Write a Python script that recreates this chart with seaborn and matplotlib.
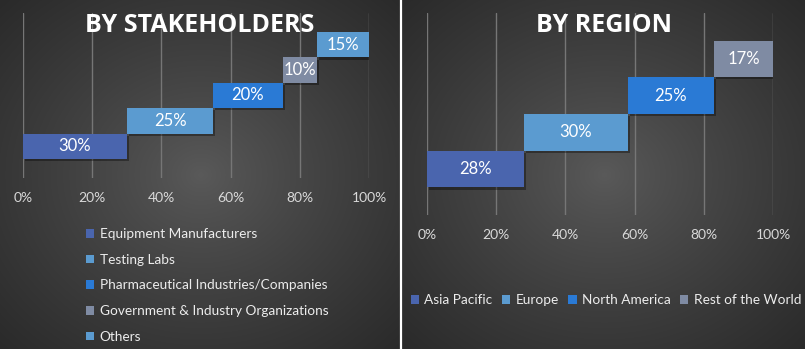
import numpy as np
import pandas as pd
import matplotlib
matplotlib.use("Agg")
import matplotlib.pyplot as plt
import matplotlib.patheffects as pe
from matplotlib.patches import Patch
import seaborn as sns

# ---- data ----
stake_labels = ["Equipment Manufacturers", "Testing Labs",
                "Pharmaceutical Industries/Companies",
                "Government & Industry Organizations", "Others"]
stake_values = [30, 25, 20, 10, 15]
stake_colors = ["#4A65AE", "#5B9BD0", "#2A7AD5", "#7F8BA3", "#5B9BD0"]

region_labels = ["Asia Pacific", "Europe", "North America", "Rest of the World"]
region_values = [28, 30, 25, 17]
region_colors = ["#4A65AE", "#5B9BD0", "#2A7AD5", "#7F8BA3"]

tick_values = [0, 20, 40, 60, 80, 100]
tick_labels = ["0%", "20%", "40%", "60%", "80%", "100%"]

W, H = 805, 349
sns.set_theme(style="dark")
plt.rcParams["font.family"] = ["Lato", "DejaVu Sans"]

fig = plt.figure(figsize=(W / 100, H / 100), dpi=100)
fig.patch.set_facecolor("#2b2b2b")


def px_axes(x0, y0, x1, y1):
    """Axes from pixel box (top-left origin)."""
    return fig.add_axes([x0 / W, (H - y1) / H, (x1 - x0) / W, (y1 - y0) / H])


def gradient_panel(x0, x1):
    ax = px_axes(x0, 0, x1, H)
    w, h = x1 - x0, H
    yy, xx = np.mgrid[0:h, 0:w]
    cx, cy = w / 2, h * 0.5
    r = np.sqrt(((xx - cx) / (w / 2)) ** 2 + ((yy - cy) / (h / 2)) ** 2) / np.sqrt(2)
    r = np.clip(r, 0, 1)
    val = (0x5a + (0x2a - 0x5a) * r ** 0.85) / 255.0
    img = np.dstack([val, val, val])
    ax.imshow(img, aspect="auto", extent=(0, 1, 0, 1), interpolation="bilinear")
    ax.set_axis_off()
    return ax


gradient_panel(0, 400)
gradient_panel(402, W)
# white divider between the two panels
fig.add_artist(plt.Line2D([401 / W, 401 / W], [0, 1], color="white", lw=1.6,
                          transform=fig.transFigure))


def waterfall(ax, labels, values, colors):
    starts = np.concatenate([[0], np.cumsum(values)[:-1]])
    df = pd.DataFrame({"segment": labels, "share": values, "start": starts})
    sns.barplot(data=df, x="share", y="segment", orient="h", width=1.0,
                left=df["start"], ax=ax, linewidth=0, color=colors[0],
                saturation=1, errorbar=None)
    shadow = [pe.SimplePatchShadow(offset=(1.5, -1.5), shadow_rgbFace="black", alpha=0.35),
              pe.Normal()]
    for patch, c in zip(ax.patches, colors):
        patch.set_facecolor(c)
        patch.set_edgecolor("none")
        patch.set_path_effects(shadow)
    for i, (s, v) in enumerate(zip(starts, values)):
        ax.text(s + v / 2, i, f"{v}%", ha="center", va="center",
                color="white", fontsize=12)
    n = len(values)
    ax.set_ylim(-1.25, n + 0.25)
    ax.set_xlim(0, 100)
    ax.set_facecolor("none")
    ax.set_xticks(tick_values)
    ax.set_xticklabels(tick_labels)
    ax.set_yticks([])
    ax.set_xlabel("")
    ax.set_ylabel("")
    ax.tick_params(axis="x", colors="#d9d9d9", labelsize=10, length=0, pad=10)
    ax.grid(False)
    for x in tick_values:
        ax.axvline(x, color="#767676", lw=1, zorder=0)
    for sp in ax.spines.values():
        sp.set_visible(False)


ax1 = px_axes(23, 13, 369, 178)
waterfall(ax1, stake_labels, stake_values, stake_colors)
ax2 = px_axes(427, 13, 773, 215)
waterfall(ax2, region_labels, region_values, region_colors)

title_kw = dict(color="white", fontsize=18, fontweight="bold",
                family=["Open Sans", "DejaVu Sans"], ha="center", va="center")
fig.text(200 / W, 1 - 26 / H, "BY STAKEHOLDERS", **title_kw)
fig.text(604 / W, 1 - 26 / H, "BY REGION", **title_kw)

leg_kw = dict(frameon=False, fontsize=9.8, labelcolor="#ececec",
              handlelength=0.6, handleheight=0.6, handletextpad=0.4)
h1 = [Patch(facecolor=c, edgecolor="none") for c in stake_colors]
fig.legend(h1, stake_labels, loc="upper left",
           bbox_to_anchor=(74 / W, 1 - 216 / H), labelspacing=1.0, **leg_kw)
h2 = [Patch(facecolor=c, edgecolor="none") for c in region_colors]
fig.legend(h2, region_labels, loc="center", ncol=4,
           bbox_to_anchor=(606 / W, 1 - 300 / H), columnspacing=0.7, **leg_kw)

fig.savefig("out.png", dpi=100, facecolor=fig.get_facecolor())
